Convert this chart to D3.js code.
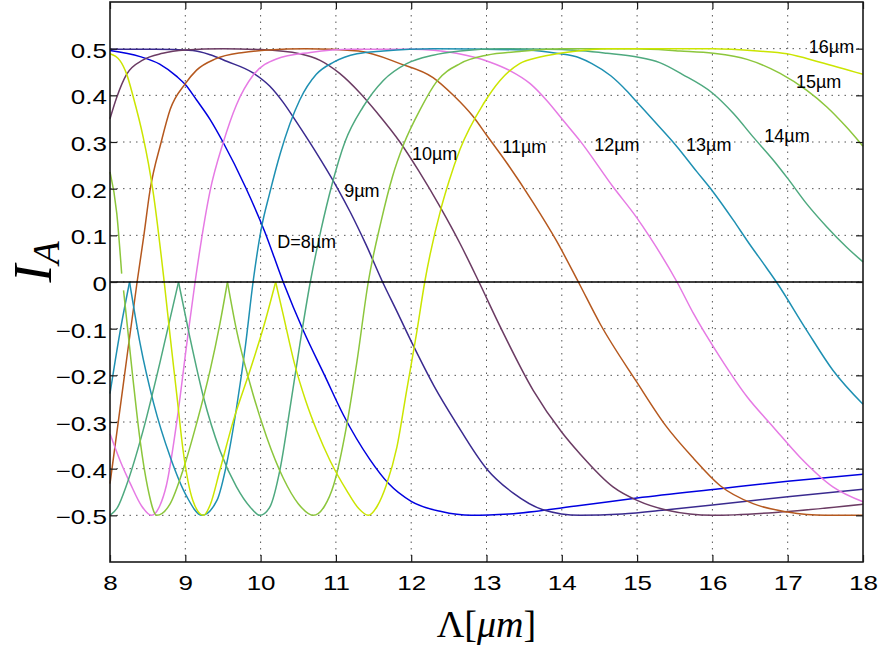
<!DOCTYPE html>
<html>
<head>
<meta charset="utf-8">
<script src="https://cdn.jsdelivr.net/npm/d3@7"></script>
<style>
    html, body { margin: 0; padding: 0; background: #ffffff; }
    svg { display: block; }
    .tick-label { font-family: "Liberation Sans", Arial, sans-serif; font-size: 20px; fill: #000; }
    .curve-label { font-family: "Liberation Sans", Arial, sans-serif; font-size: 18px; fill: #000; }
    .axis-title { font-family: "Liberation Serif", "DejaVu Serif", serif; fill: #000; }
</style>
</head>
<body>
<div id="chart"></div>
<script>
// Ticks
const xTicks = [8, 9, 10, 11, 12, 13, 14, 15, 16, 17, 18];
const yTicks = [-0.5, -0.4, -0.3, -0.2, -0.1, 0, 0.1, 0.2, 0.3, 0.4, 0.5];

// Curve labels and where they sit (data coordinates, text baseline)
const curveNames = ["D=8µm", "9µm", "10µm", "11µm", "12µm", "13µm", "14µm", "15µm", "16µm"];
const labelAnchors = [
    [10.22, 0.072], [11.11, 0.182], [12.01, 0.261], [13.21, 0.276], [14.43, 0.280],
    [15.65, 0.280], [16.69, 0.299], [17.11, 0.415], [17.28, 0.490]
];

// I_A against Lambda, one curve per D; a curve is split into pieces at its cusps
const d8 = [[
    [8, 0.496], [8.4, 0.483], [8.66, 0.467], [8.89, 0.44], [9.0, 0.423], [9.15, 0.39], [9.33, 0.348],
    [9.5, 0.3], [9.8, 0.203], [10.05, 0.11], [10.3, 0], [10.57, -0.105], [10.85, -0.2], [11.1, -0.285],
    [11.45, -0.38], [11.7, -0.432], [12.0, -0.47], [12.4, -0.492], [12.8, -0.5], [13.3, -0.497],
    [14.24, -0.479], [15, -0.463], [16.1, -0.443], [17, -0.427], [18, -0.412]
]];
const d9 = [[
    [8, 0.499], [8.6, 0.499], [9.1, 0.496], [9.33, 0.487], [9.55, 0.473], [9.9, 0.448], [10.12, 0.42],
    [10.3, 0.385], [10.48, 0.342], [10.72, 0.282], [11.01, 0.204], [11.19, 0.15], [11.4, 0.08], [11.62, 0],
    [11.81, -0.063], [12.03, -0.137], [12.3, -0.222], [12.6, -0.303], [13.0, -0.4], [13.36, -0.453],
    [13.75, -0.488], [14.24, -0.5], [14.8, -0.497], [15.4, -0.488], [16, -0.478], [17, -0.46], [18, -0.444]
]];
const d10 = [[
    [8, 0.35], [8.09, 0.396], [8.22, 0.445], [8.44, 0.476], [8.7, 0.49], [9, 0.497], [9.5, 0.5], [10, 0.498],
    [10.52, 0.489], [10.79, 0.475], [11.05, 0.447], [11.32, 0.405], [11.55, 0.362], [11.85, 0.3], [12.1, 0.238],
    [12.38, 0.162], [12.65, 0.082], [12.9, 0], [13.18, -0.095], [13.62, -0.232], [14.0, -0.322], [14.24, -0.368],
    [14.68, -0.439], [15, -0.468], [15.4, -0.489], [16, -0.5], [16.9, -0.493], [18, -0.476]
]];
const d11 = [[
    [8, -0.432], [8.18, -0.215], [8.36, 0], [8.45, 0.1], [8.53, 0.195], [8.68, 0.3], [8.8, 0.37], [9.0, 0.425],
    [9.15, 0.454], [9.4, 0.478], [9.77, 0.492], [10.1, 0.497], [10.6, 0.5], [11.3, 0.495], [11.85, 0.468],
    [12.29, 0.438], [12.56, 0.4], [12.82, 0.355], [13.0, 0.315], [13.27, 0.255], [13.62, 0.17], [13.93, 0.088],
    [14.22, 0], [14.51, -0.09], [14.99, -0.213], [15.39, -0.31], [15.75, -0.378], [16.1, -0.436],
    [16.54, -0.475], [17, -0.493], [17.5, -0.5], [18, -0.5]
]];
const d12 = [[
    [8, -0.325], [8.14, -0.385], [8.27, -0.432], [8.42, -0.48], [8.55, -0.5], [8.66, -0.48], [8.75, -0.435],
    [8.89, -0.296], [9.02, -0.132], [9.13, 0], [9.33, 0.196], [9.5, 0.297], [9.68, 0.38], [9.9, 0.443],
    [10.21, 0.478], [10.66, 0.492], [11.2, 0.499], [12, 0.499], [12.6, 0.49], [13.05, 0.471], [13.31, 0.453],
    [13.58, 0.425], [13.8, 0.389], [14.02, 0.346], [14.24, 0.303], [14.68, 0.204], [14.99, 0.139],
    [15.17, 0.096], [15.53, 0], [15.75, -0.068], [16.1, -0.161], [16.46, -0.246], [16.81, -0.311],
    [17.16, -0.375], [17.6, -0.439], [18, -0.471]
]];
const d13 = [
    [[8, -0.239], [8.13, -0.11], [8.26, 0]],
    [[8.26, 0], [8.4, -0.132], [8.58, -0.26], [8.8, -0.375], [9.02, -0.46], [9.22, -0.5], [9.42, -0.468],
     [9.55, -0.389], [9.68, -0.27], [9.8, -0.135], [9.9, 0], [10.01, 0.115], [10.12, 0.19], [10.26, 0.275],
     [10.52, 0.39], [10.74, 0.445], [10.97, 0.471], [11.28, 0.489], [11.63, 0.495], [12.3, 0.5], [13.5, 0.497],
     [13.93, 0.49], [14.24, 0.48], [14.4, 0.468], [14.65, 0.442], [14.86, 0.41], [15.0, 0.385], [15.22, 0.346],
     [15.53, 0.29], [15.79, 0.237], [16.01, 0.193], [16.28, 0.132], [16.46, 0.089], [16.72, 0.03], [16.85, 0],
     [17.25, -0.103], [17.6, -0.189], [18, -0.262]]
];
const d14 = [
    [[8, -0.5], [8.1, -0.483], [8.22, -0.435], [8.44, -0.318], [8.66, -0.175], [8.91, 0]],
    [[8.91, 0], [9.06, -0.118], [9.24, -0.246], [9.46, -0.361], [9.68, -0.439], [9.86, -0.482], [9.99, -0.5],
     [10.12, -0.483], [10.26, -0.4], [10.39, -0.271], [10.52, -0.135], [10.66, 0], [10.8, 0.11], [10.95, 0.21],
     [11.12, 0.3], [11.36, 0.375], [11.63, 0.432], [11.94, 0.468], [12.29, 0.486], [12.65, 0.495], [13.2, 0.5],
     [14, 0.498], [14.6, 0.49], [15.0, 0.482], [15.3, 0.47], [15.6, 0.445], [16.0, 0.405], [16.28, 0.361],
     [16.54, 0.311], [16.81, 0.261], [17.0, 0.222], [17.25, 0.168], [17.52, 0.118], [17.78, 0.075], [18, 0.043]]
];
const d15 = [
    [[8, 0.236], [8.09, 0.147], [8.155, 0.018]],
    [[8.18, -0.018], [8.3, -0.2], [8.4, -0.34], [8.5, -0.44], [8.62, -0.5], [8.8, -0.475], [8.97, -0.403],
     [9.15, -0.303], [9.33, -0.189], [9.46, -0.089], [9.56, 0]],
    [[9.56, 0], [9.68, -0.103], [9.86, -0.218], [10.08, -0.332], [10.3, -0.42], [10.5, -0.475], [10.7, -0.5],
     [10.85, -0.48], [10.97, -0.435], [11.14, -0.31], [11.28, -0.17], [11.43, 0], [11.6, 0.13], [11.75, 0.225],
     [11.9, 0.295], [12.12, 0.37], [12.34, 0.43], [12.65, 0.468], [13.0, 0.486], [13.44, 0.494], [14, 0.5],
     [15, 0.5], [15.57, 0.495], [16.01, 0.49], [16.46, 0.477], [16.9, 0.447], [17.25, 0.411], [17.52, 0.375],
     [17.78, 0.332], [18, 0.291]]
];
const d16 = [
    [[8, 0.489], [8.13, 0.475], [8.22, 0.446], [8.31, 0.396], [8.44, 0.311], [8.51, 0.254], [8.57, 0.196],
     [8.72, 0], [8.8, -0.118], [8.89, -0.246], [8.97, -0.36], [9.1, -0.468], [9.24, -0.5], [9.33, -0.478],
     [9.46, -0.403], [9.64, -0.296], [9.86, -0.189], [10.04, -0.096], [10.2, 0]],
    [[10.2, 0], [10.3, -0.07], [10.45, -0.175], [10.6, -0.255], [10.75, -0.32], [10.92, -0.382], [11.14, -0.446],
     [11.3, -0.485], [11.43, -0.5], [11.55, -0.48], [11.67, -0.435], [11.81, -0.354], [11.94, -0.232],
     [12.07, -0.111], [12.18, 0], [12.4, 0.16], [12.5, 0.215], [12.65, 0.285], [12.96, 0.382], [13.18, 0.432],
     [13.44, 0.468], [13.71, 0.482], [14.15, 0.494], [14.6, 0.5], [16.0, 0.5], [16.6, 0.495], [16.99, 0.489],
     [17.43, 0.471], [18, 0.445]]
];
const curves = [d8, d9, d10, d11, d12, d13, d14, d15, d16];

// Chart configuration
const CHART_CONFIG = {
    width: 879,
    height: 652,
    margin: { left: 110, right: 16, top: 2, bottom: 90 },
    tickLength: 7,
    curveColors: [
        "#0000e0",   // 8
        "#3a2a8f",   // 9
        "#6b3b63",   // 10
        "#b5581e",   // 11
        "#e67ae4",   // 12
        "#1e90b2",   // 13
        "#4ea97f",   // 14
        "#8cc63c",   // 15
        "#cbe500"    // 16
    ]
};

function drawChart() {
    const { width, height, margin, tickLength } = CHART_CONFIG;
    const innerW = width - margin.left - margin.right;
    const innerH = height - margin.top - margin.bottom;

    const svg = d3.select('#chart')
        .append('svg')
        .attr('width', width)
        .attr('height', height);

    const g = svg.append('g')
        .attr('transform', `translate(${margin.left},${margin.top})`);

    const x = d3.scaleLinear().domain([8, 18]).range([0, innerW]);
    const y = d3.scaleLinear().domain([-0.6, 0.6]).range([innerH, 0]);

    // Dotted grid
    const grid = g.append('g').attr('class', 'grid')
        .attr('stroke', '#555')
        .attr('stroke-width', 1)
        .attr('stroke-dasharray', '1.5,5');

    grid.selectAll('line.gx')
        .data(xTicks.slice(1, -1))
        .enter().append('line')
        .attr('class', 'gx')
        .attr('x1', d => x(d)).attr('x2', d => x(d))
        .attr('y1', 0).attr('y2', innerH);

    grid.selectAll('line.gy')
        .data(yTicks)
        .enter().append('line')
        .attr('class', 'gy')
        .attr('x1', 0).attr('x2', innerW)
        .attr('y1', d => y(d)).attr('y2', d => y(d));

    // Curves
    const line = d3.line()
        .x(d => x(d[0]))
        .y(d => y(d[1]))
        .curve(d3.curveMonotoneX);

    curves.forEach((pieces, i) => {
        g.append('g')
            .selectAll('path')
            .data(pieces)
            .enter().append('path')
            .attr('d', line)
            .attr('fill', 'none')
            .attr('stroke', CHART_CONFIG.curveColors[i])
            .attr('stroke-width', 1.5);
    });

    // Zero line
    g.append('line')
        .attr('x1', x(8)).attr('x2', x(18))
        .attr('y1', y(0)).attr('y2', y(0))
        .attr('stroke', '#000')
        .attr('stroke-width', 1.3);

    // Curve labels
    g.selectAll('text.curve-label')
        .data(curveNames)
        .enter().append('text')
        .attr('class', 'curve-label')
        .attr('x', (d, i) => x(labelAnchors[i][0]))
        .attr('y', (d, i) => y(labelAnchors[i][1]))
        .text(d => d);

    // Axes with inward ticks on all four sides
    const fmtY = d => d === 0 ? '0' : d3.format('.1f')(d);

    const left = g.append('g')
        .call(d3.axisLeft(y).tickValues(yTicks).tickFormat(fmtY)
            .tickSizeInner(-tickLength).tickSizeOuter(0));
    left.selectAll('text')
        .attr('class', 'tick-label')
        .attr('x', 0)
        .attr('dy', '0.42em')
        .attr('transform', 'translate(-3,0) scale(1.3,1)');

    const bottom = g.append('g')
        .attr('transform', `translate(0,${innerH})`)
        .call(d3.axisBottom(x).tickValues(xTicks).tickFormat(d3.format('d'))
            .tickSizeInner(-tickLength).tickSizeOuter(0));
    bottom.selectAll('text')
        .attr('class', 'tick-label')
        .attr('y', 0)
        .attr('dy', null)
        .attr('transform', 'translate(0,28) scale(1.3,1)');

    g.append('g')
        .call(d3.axisTop(x).tickValues(xTicks).tickFormat('')
            .tickSizeInner(-tickLength).tickSizeOuter(0));

    g.append('g')
        .attr('transform', `translate(${innerW},0)`)
        .call(d3.axisRight(y).tickValues(yTicks).tickFormat('')
            .tickSizeInner(-tickLength).tickSizeOuter(0));

    g.selectAll('.domain').remove();
    g.selectAll('.tick line').attr('stroke', '#1a1a1a').attr('stroke-width', 1.2);

    // Frame
    g.append('rect')
        .attr('x', 0).attr('y', 0)
        .attr('width', innerW).attr('height', innerH)
        .attr('fill', 'none')
        .attr('stroke', '#1a1a1a')
        .attr('stroke-width', 1.6);

    // Axis titles
    const xt = svg.append('text')
        .attr('class', 'axis-title')
        .attr('x', margin.left + innerW / 2)
        .attr('y', 637)
        .attr('text-anchor', 'middle')
        .attr('font-size', 38);
    xt.append('tspan').text('Λ[');
    xt.append('tspan').attr('font-style', 'italic').text('μm');
    xt.append('tspan').text(']');

    const yt = svg.append('text')
        .attr('class', 'axis-title')
        .attr('transform', 'translate(51,262) rotate(-90)')
        .attr('text-anchor', 'middle')
        .attr('font-style', 'italic')
        .attr('font-size', 54);
    yt.append('tspan').text('I');
    yt.append('tspan').attr('font-size', 38).attr('dy', 8).text('A');
}

drawChart();
</script>
</body>
</html>
